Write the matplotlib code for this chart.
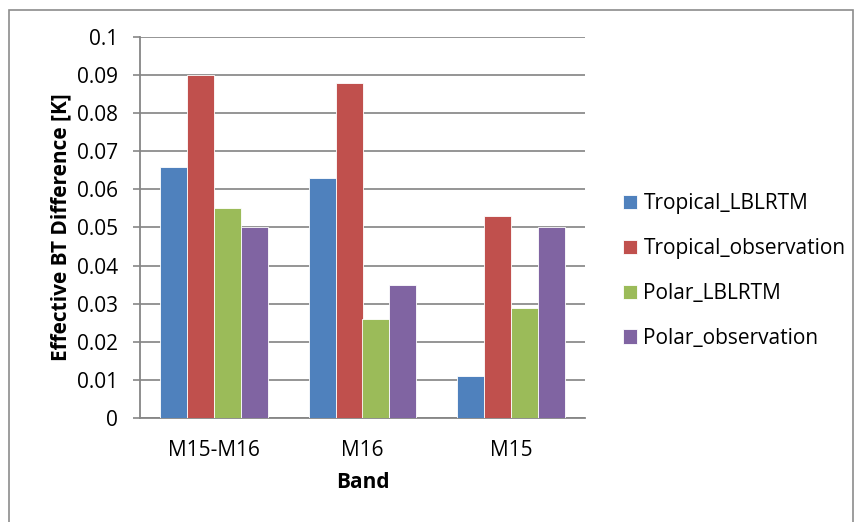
import numpy as np
import matplotlib
matplotlib.use("Agg")
import matplotlib.pyplot as plt
from matplotlib.patches import Rectangle

plt.rcParams['font.family'] = ['Open Sans', 'DejaVu Sans']

bands = ["M15-M16", "M16", "M15"]
series_names = ["Tropical_LBLRTM", "Tropical_observation", "Polar_LBLRTM", "Polar_observation"]
tropical_lblrtm = [0.066, 0.063, 0.011]
tropical_obs = [0.090, 0.088, 0.053]
polar_lblrtm = [0.055, 0.026, 0.029]
polar_obs = [0.050, 0.035, 0.050]
y_ticks = [0, 0.01, 0.02, 0.03, 0.04, 0.05, 0.06, 0.07, 0.08, 0.09, 0.1]
y_tick_labels = ["0", "0.01", "0.02", "0.03", "0.04", "0.05", "0.06", "0.07", "0.08", "0.09", "0.1"]

colors = ["#4F81BD", "#C0504D", "#9BBB59", "#8064A2"]
series = [tropical_lblrtm, tropical_obs, polar_lblrtm, polar_obs]

W, H = 859, 522
FS = 15
fig = plt.figure(figsize=(W / 100, H / 100), dpi=100)

# chart border (bottom edge runs past the canvas)
fig.patches.append(Rectangle((8.5 / W, -10 / H), 844 / W, H / H, transform=fig.transFigure,
                             fill=False, edgecolor="#8C8C8C", linewidth=1.2))

ax = fig.add_axes([140 / W, 1 - 418 / H, 445 / W, 381 / H])

n = len(series)
gap = 1.5
bw = 1.0 / (n + gap)
x = np.arange(len(bands))
for i, (vals, c, name) in enumerate(zip(series, colors, series_names)):
    offs = (i - (n - 1) / 2) * bw
    ax.bar(x + offs, vals, width=bw, color=c, label=name, edgecolor="white", linewidth=0.6, zorder=3)

ax.set_xlim(-0.5, len(bands) - 0.5)
ax.set_ylim(0, 0.1)
ax.set_yticks(y_ticks)
ax.set_yticklabels(y_tick_labels, fontsize=FS)
ax.set_xticks(x)
ax.set_xticklabels(bands, fontsize=FS)
ax.tick_params(axis="x", which="major", length=0, pad=15.5)
ax.tick_params(axis="y", length=5, color="#868686", width=1.2, pad=11)

ax.grid(axis="y", color="#8C8C8C", linewidth=1.3, zorder=0)
for side in ["top", "right"]:
    ax.spines[side].set_visible(False)
for side in ["left", "bottom"]:
    ax.spines[side].set_color("#868686")
    ax.spines[side].set_linewidth(1.3)

ax.set_ylabel("Effective BT Difference [K]", fontsize=FS, fontweight="bold", labelpad=4)
ax.set_xlabel("Band", fontsize=FS, fontweight="bold", labelpad=8)

ax.legend(loc="center left", bbox_to_anchor=(623 / W, 1 - 271 / H), bbox_transform=fig.transFigure,
          frameon=False, fontsize=FS, handlelength=0.68, handleheight=0.68, handletextpad=0.3,
          labelspacing=1.15, borderpad=0, borderaxespad=0)

fig.savefig("out.png", dpi=100)
